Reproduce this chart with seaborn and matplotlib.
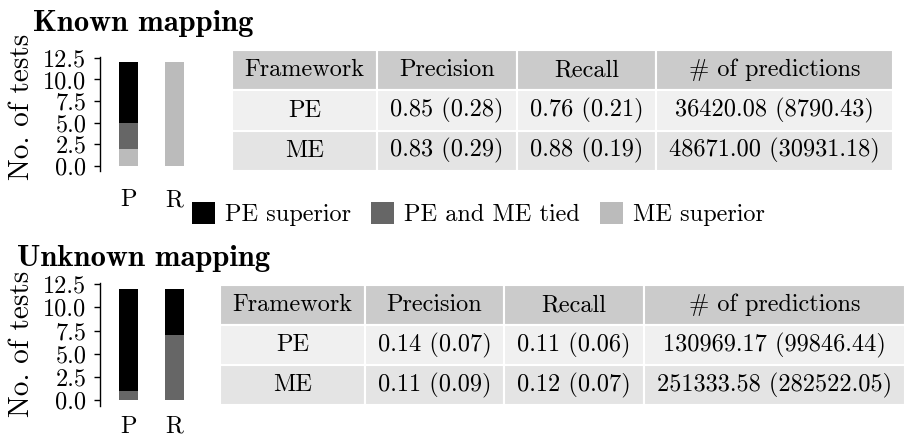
import pandas as pd
import matplotlib
matplotlib.use('Agg')
import matplotlib.pyplot as plt
import seaborn as sns
from matplotlib.patches import Patch

# stacked bars: number of tests per outcome
measures = ['P', 'R']
outcomes = ['PE superior', 'PE and ME tied', 'ME superior']
outcome_colors = ['#000000', '#666666', '#bbbbbb']
known_pe_sup = [7, 0]
known_tied = [3, 0]
known_me_sup = [2, 12]
unknown_pe_sup = [11, 5]
unknown_tied = [1, 7]
unknown_me_sup = [0, 0]

# tables
table_cols = ['Framework', 'Precision', 'Recall', '# of predictions']
frameworks = ['PE', 'ME']
known_precision = ['0.85 (0.28)', '0.83 (0.29)']
known_recall = ['0.76 (0.21)', '0.88 (0.19)']
known_preds = ['36420.08 (8790.43)', '48671.00 (30931.18)']
unknown_precision = ['0.14 (0.07)', '0.11 (0.09)']
unknown_recall = ['0.11 (0.06)', '0.12 (0.07)']
unknown_preds = ['130969.17 (99846.44)', '251333.58 (282522.05)']

sns.set_style('ticks')
plt.rcParams['font.family'] = ['cmr10', 'DejaVu Serif']
plt.rcParams['axes.unicode_minus'] = False
plt.rcParams['axes.formatter.use_mathtext'] = True
for key in ['text.color', 'axes.labelcolor', 'xtick.color', 'ytick.color', 'axes.edgecolor']:
    plt.rcParams[key] = 'black'

W, H = 907, 438
fig = plt.figure(figsize=(W / 100, H / 100), dpi=100)


def px_axes(left, top, right, bottom):
    return fig.add_axes([left / W, 1 - bottom / H, (right - left) / W, (bottom - top) / H])


def bars(ax, pe_sup, tied, me_sup, xpad):
    df = pd.DataFrame({'measure': measures, 'pe': pe_sup, 'tied': tied, 'me': me_sup})
    # stack from the top down so that shorter bars sit in front
    cums = [df.pe + df.tied + df.me, df.tied + df.me, df.me]
    for cum, col in zip(cums, outcome_colors):
        sns.barplot(x=df.measure, y=cum, color=col, width=0.4, saturation=1,
                    linewidth=0, errorbar=None, ax=ax)
    ax.set_xlim(-0.62, 1.62)
    ax.set_ylim(-0.6, 12.6)
    ax.set_yticks([0, 2.5, 5, 7.5, 10, 12.5])
    ax.set_yticklabels(['0.0', '2.5', '5.0', '7.5', '10.0', '12.5'])
    ax.set_xlabel('')
    ax.set_ylabel('')
    sns.despine(ax=ax, bottom=True)
    ax.tick_params(axis='y', labelsize=17.5, length=4.3, width=1, pad=5.5)
    ax.tick_params(axis='x', labelsize=17.5, length=0, pad=xpad)
    ax.spines['left'].set_linewidth(1)


def table(ax, precision, recall, preds, widths):
    rows = [[f, p, r, n] for f, p, r, n in zip(frameworks, precision, recall, preds)]
    tab = ax.table(cellText=rows, colLabels=table_cols, cellLoc='center',
                   colWidths=widths, bbox=[0, 0, 1, 1])
    tab.auto_set_font_size(False)
    tab.set_fontsize(17.5)
    fills = ['#cbcbcb', '#f0f0f0', '#e4e4e4']
    for (r, c), cell in tab.get_celld().items():
        cell.set_edgecolor('white')
        cell.set_linewidth(1.5)
        cell.set_facecolor(fills[r])
    ax.axis('off')


# Known mapping
ax1 = px_axes(100, 57, 203, 171)
bars(ax1, known_pe_sup, known_tied, known_me_sup, 13)
tax1 = px_axes(232, 50, 893, 171)
table(tax1, known_precision, known_recall, known_preds, [145, 140, 139, 237])
fig.text(33 / W, 1 - 31 / H, 'Known mapping', family='cmb10', fontsize=22, va='baseline')
fig.text(22 / W, 1 - 107 / H, 'No. of tests', rotation=90, fontsize=21, ha='center', va='center')

# Unknown mapping
ax2 = px_axes(100, 283, 203, 406)
bars(ax2, unknown_pe_sup, unknown_tied, unknown_me_sup, 7)
tax2 = px_axes(220, 285, 905, 405)
table(tax2, unknown_precision, unknown_recall, unknown_preds, [145, 139, 140, 261])
fig.text(17 / W, 1 - 266 / H, 'Unknown mapping', family='cmb10', fontsize=22, va='baseline')
fig.text(22 / W, 1 - 344 / H, 'No. of tests', rotation=90, fontsize=21, ha='center', va='center')

handles = [Patch(facecolor=c, edgecolor='none', label=o) for o, c in zip(outcomes, outcome_colors)]
fig.legend(handles=handles, loc='center left', bbox_to_anchor=(192 / W, 1 - 214 / H),
           ncol=3, frameon=False, fontsize=17.5, handlelength=0.95, handleheight=1.0,
           handletextpad=0.41, columnspacing=0.82, borderpad=0, borderaxespad=0)

fig.savefig('out.png', dpi=100)
